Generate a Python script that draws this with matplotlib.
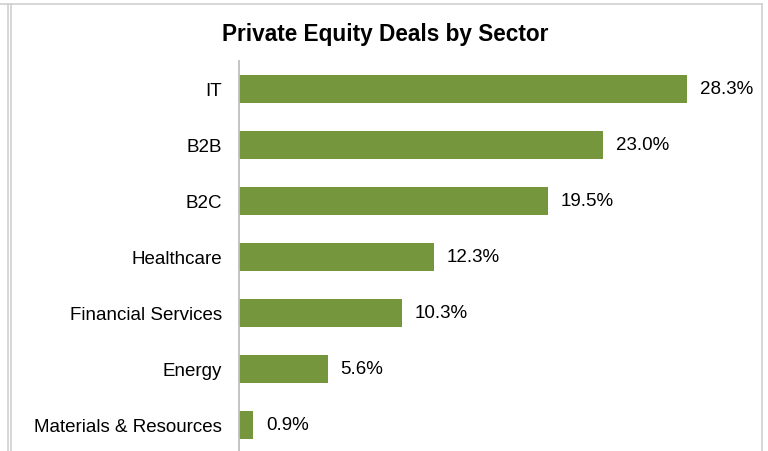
import matplotlib.pyplot as plt
from matplotlib.lines import Line2D

plt.rcParams['font.family'] = ['Liberation Sans', 'DejaVu Sans']

# data
sectors = ['IT', 'B2B', 'B2C', 'Healthcare', 'Financial Services',
           'Energy', 'Materials & Resources']
shares = [28.3, 23.0, 19.5, 12.3, 10.3, 5.6, 0.9]

bar_color = '#76963D'
grid_gray = '#D0D0D0'

W, H = 768, 452
fig = plt.figure(figsize=(W / 100, H / 100), dpi=100)

# plot area placed in pixel terms
left_px, top_px, bottom_px = 239, 62, 454
xmax = 30.0
px_per_unit = 15.84
ax = fig.add_axes([left_px / W, (H - bottom_px) / H,
                   xmax * px_per_unit / W, (bottom_px - top_px) / H])

ypos = list(range(len(sectors)))
ax.barh(ypos, shares, height=0.49, color=bar_color, zorder=2)
for y, v in zip(ypos, shares):
    ax.text(v + 0.8, y, '%.1f%%' % v, va='center', ha='left', fontsize=13.5)

ax.set_ylim(len(sectors) - 0.5, -0.5)
ax.set_xlim(0, xmax)
ax.set_yticks(ypos)
ax.set_yticklabels(sectors, fontsize=13.5)
ax.tick_params(axis='y', length=0, pad=12)
ax.set_xticks([])
for s in ['top', 'right', 'bottom']:
    ax.spines[s].set_visible(False)
ax.spines['left'].set_color('#BFBFBF')
ax.spines['left'].set_linewidth(1.3)

fig.text(385 / W, 1 - 35 / H, 'Private Equity Deals by Sector',
         ha='center', va='center', fontsize=16.3, fontweight='bold')

# chart area borders (this one and the edge of the neighbouring chart)
def px_line(x0, y0, x1, y1):
    fig.add_artist(Line2D([x0 / W, x1 / W], [1 - y0 / H, 1 - y1 / H],
                          color=grid_gray, lw=1.2, transform=fig.transFigure))

px_line(0, 5, 762, 5)
px_line(7.5, 5, 7.5, H)
px_line(10.5, 5, 10.5, H)
px_line(761.5, 5, 761.5, H)

plt.savefig('out.png', dpi=100)
